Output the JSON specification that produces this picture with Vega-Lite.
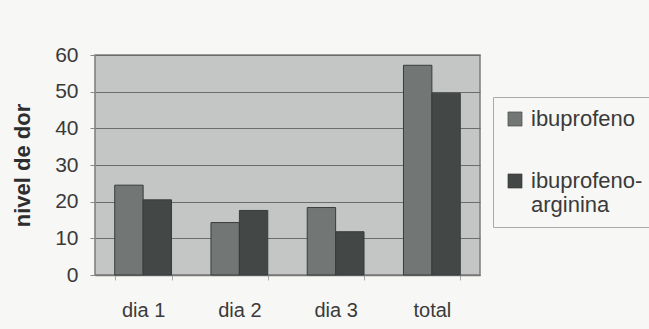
{
  "$schema": "https://vega.github.io/schema/vega-lite/v6.json",
  "width": 385,
  "height": 220,
  "autosize": {"type": "none"},
  "padding": {"left": 95, "top": 55, "right": 169, "bottom": 54},
  "background": "#f7f7f5",
  "config": {
    "font": "Liberation Sans",
    "view": {"fill": "#c3c6c5", "stroke": "#7a7d7c", "strokeWidth": 1.5}
  },
  "data": {
    "values": [
      {"dia": "dia 1", "grupo": "ibuprofeno", "valor": 24.5},
      {"dia": "dia 1", "grupo": "ibuprofeno-arginina", "valor": 20.5},
      {"dia": "dia 2", "grupo": "ibuprofeno", "valor": 14.3},
      {"dia": "dia 2", "grupo": "ibuprofeno-arginina", "valor": 17.6},
      {"dia": "dia 3", "grupo": "ibuprofeno", "valor": 18.4},
      {"dia": "dia 3", "grupo": "ibuprofeno-arginina", "valor": 11.8},
      {"dia": "total", "grupo": "ibuprofeno", "valor": 57.2},
      {"dia": "total", "grupo": "ibuprofeno-arginina", "valor": 49.6}
    ]
  },
  "mark": {"type": "bar", "stroke": "#3a3c3c", "strokeWidth": 1},
  "encoding": {
    "x": {
      "field": "dia",
      "type": "nominal",
      "scale": {"paddingInner": 0.41, "paddingOuter": 0.205},
      "axis": {
        "title": null,
        "labelAngle": 0,
        "labelFontSize": 20,
        "labelColor": "#3a3a3a",
        "labelPadding": 20,
        "tickBand": "extent",
        "tickSize": 5,
        "tickColor": "#aaa",
        "domainColor": "#777",
        "domainWidth": 1.5
      }
    },
    "xOffset": {"field": "grupo"},
    "y": {
      "field": "valor",
      "type": "quantitative",
      "scale": {"domain": [0, 60]},
      "axis": {
        "title": "nivel de dor",
        "titleFontSize": 22,
        "titleFontWeight": "bold",
        "titleColor": "#2e2e2e",
        "titlePadding": 20,
        "values": [0, 10, 20, 30, 40, 50, 60],
        "labelFontSize": 21,
        "labelColor": "#3a3a3a",
        "labelPadding": 12,
        "tickSize": 5,
        "tickColor": "#888",
        "grid": true,
        "gridColor": "#6a6d6c",
        "gridWidth": 1,
        "domain": false
      }
    },
    "color": {
      "field": "grupo",
      "type": "nominal",
      "scale": {"domain": ["ibuprofeno", "ibuprofeno-arginina"], "range": ["#727675", "#434746"]},
      "legend": {
        "title": null,
        "orient": "none",
        "legendX": 398,
        "legendY": 42,
        "strokeColor": "#aaa",
        "padding": 11,
        "symbolType": "square",
        "symbolSize": 200,
        "symbolStrokeColor": "#333",
        "symbolStrokeWidth": 0.5,
        "labelFontSize": 22,
        "labelColor": "#3a3a3a",
        "labelOffset": 5,
        "labelLimit": 220,
        "rowPadding": 40,
        "labelExpr": "datum.label == 'ibuprofeno-arginina' ? ['ibuprofeno-', 'arginina'] : datum.label"
      }
    }
  }
}
